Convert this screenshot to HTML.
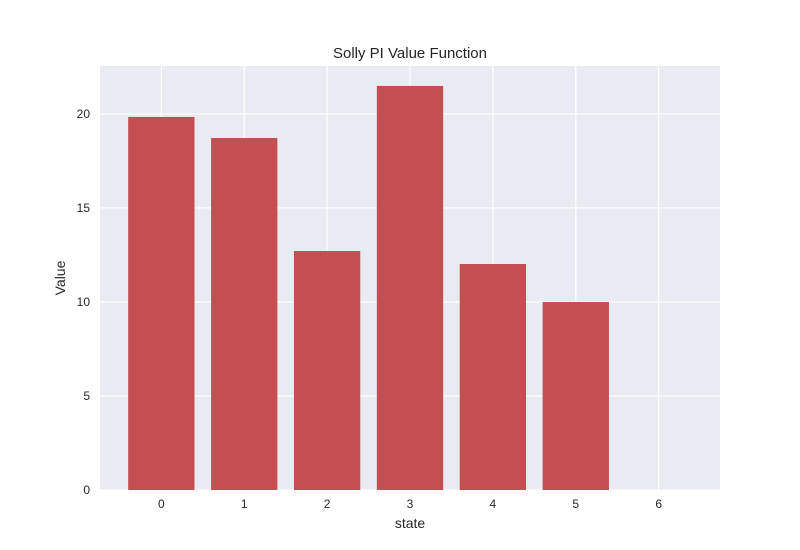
<!DOCTYPE html>
<html><head><meta charset="utf-8"><style>body{margin:0;background:#fff}svg{display:block}</style></head>
<body>
<svg id="chart" width="800" height="550" font-family="Liberation Sans, DejaVu Sans, sans-serif">
<rect x="100" y="66" width="620" height="424" fill="#eaeaf2"/>
<g id="grid"></g><g id="bars"></g><g id="ticks"></g>
<text x="410" y="58" text-anchor="middle" font-size="15" fill="#262626">Solly PI Value Function</text>
<text x="410" y="528" text-anchor="middle" font-size="14" fill="#262626">state</text>
<text transform="translate(65,278) rotate(-90)" text-anchor="middle" font-size="14" fill="#262626">Value</text>
</svg>
<script>
const categories = [0,1,2,3,4,5,6];
const values = [19.84,18.72,12.71,21.49,12.02,10.0,0];
const yTicks = [0,5,10,15,20];
const NS='http://www.w3.org/2000/svg';
const x0=100,x1=720,y0=490,y1=66,xmin=-0.74,xmax=6.74,ymin=0,ymax=22.55;
const xs=v=>x0+(v-xmin)/(xmax-xmin)*(x1-x0);
const ys=v=>y0-(v-ymin)/(ymax-ymin)*(y0-y1);
function mk(t,a){const e=document.createElementNS(NS,t);for(const k in a)e.setAttribute(k,a[k]);return e;}
const grid=document.getElementById('grid'),bars=document.getElementById('bars'),ticks=document.getElementById('ticks');
yTicks.forEach(t=>{
  const l=mk('line',{x1:x0,x2:x1,y1:ys(t),y2:ys(t),stroke:'#fff','stroke-width':1.2});
  
  
  grid.appendChild(l);
  const tx=mk('text',{x:x0-10,y:ys(t)+4,'text-anchor':'end','font-size':12,fill:'#262626'});
  tx.textContent=t;
  
  
  ticks.appendChild(tx);
});
categories.forEach((c,i)=>{
  const l=mk('line',{x1:xs(c),x2:xs(c),y1:y1,y2:y0,stroke:'#fff','stroke-width':1.2});
  
  
  grid.appendChild(l);
  const h=ys(0)-ys(values[i]);
  const r=mk('rect',{x:xs(c-0.4),y:ys(values[i]),width:xs(c+0.4)-xs(c-0.4),height:h,fill:'#c44e52'});
  
  
  bars.appendChild(r);
  const tx=mk('text',{x:xs(c),y:y0+18,'text-anchor':'middle','font-size':12,fill:'#262626'});
  tx.textContent=c;
  
  
  ticks.appendChild(tx);
});
</script>
</body></html>
